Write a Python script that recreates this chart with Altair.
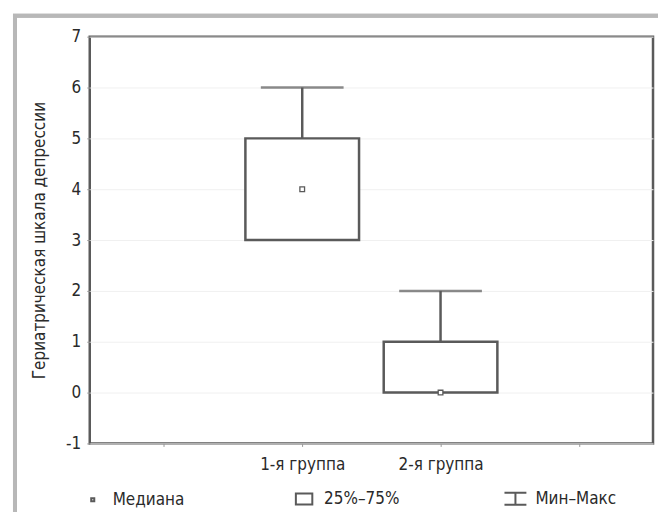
import altair as alt
import pandas as pd

groups = ["1-я группа", "2-я группа"]
positions = [1, 2]
mins = [3, 0]
q1s = [3, 0]
medians = [4, 0]
q3s = [5, 1]
maxs = [6, 2]

legend_items = ["Медиана", "25%–75%", "Мин–Макс"]
legend_shapes = [
    "M-0.14,-0.14H0.14V0.14H-0.14Z",
    "M-0.75,-0.5H0.75V0.5H-0.75Z",
    "M-1,-0.55H1M0,-0.55V0.55M-1,0.55H1",
]

FONT = "DejaVu Sans Condensed, Liberation Sans Narrow, Liberation Sans, sans-serif"
GRAY = "#5a5a5a"
TXT = "#2a2a2a"

df = pd.DataFrame({
    "group": groups, "pos": positions, "min": mins, "q1": q1s,
    "median": medians, "q3": q3s, "max": maxs,
})
leg = pd.DataFrame({"item": legend_items, "pos": [-10] * 3, "v": [0] * 3})

xscale = alt.Scale(domain=[-0.5, 3.5], nice=False, zero=False)
yscale = alt.Scale(domain=[-1, 7], nice=False, zero=False)

label_expr = "datum.value == 1 ? '1-я группа' : (datum.value == 2 ? '2-я группа' : '')"

xenc = alt.X("pos:Q", scale=xscale, axis=alt.Axis(
    values=[0, 1, 2, 3], labelExpr=label_expr, title=None, grid=False,
    domain=False, tickSize=3, tickColor="#999", labelFont=FONT, labelFontSize=17,
    labelColor=TXT, labelPadding=10))
yenc_axis = alt.Axis(values=list(range(-1, 8)), title="Гериатрическая шкала депрессии",
                     labelExpr="datum.value < 0 ? '-' + abs(datum.value) : '' + datum.value",
                     domain=False, tickSize=3, tickColor="#999", grid=True,
                     gridColor="#f0f0f0", labelFont=FONT, labelFontSize=17,
                     labelColor=TXT, labelPadding=6, titleFont=FONT,
                     titleFontSize=17, titleFontWeight="normal", titleColor=TXT,
                     titlePadding=17)

base = alt.Chart(df)

whisker = base.mark_rule(color=GRAY, strokeWidth=2.5).encode(
    x=xenc, y=alt.Y("q3:Q", scale=yscale, axis=yenc_axis), y2="max:Q")

box = base.mark_bar(size=114, fill="white", stroke=GRAY, strokeWidth=2.5).encode(
    x="pos:Q", y="q1:Q", y2="q3:Q")

cap = base.mark_tick(orient="horizontal", size=83, thickness=2.5, color=GRAY).encode(
    x="pos:Q", y="max:Q")

med = base.mark_point(shape="square", size=22, filled=True, fill="white",
                      stroke=GRAY, strokeWidth=1.3, opacity=1).encode(
    x="pos:Q", y="median:Q")

legend_layer = alt.Chart(leg).mark_point(clip=True, filled=False, opacity=1).encode(
    x="pos:Q", y="v:Q",
    shape=alt.Shape("item:N", sort=legend_items,
                    scale=alt.Scale(domain=legend_items, range=legend_shapes),
                    legend=alt.Legend(orient="none", legendX=-9, legendY=451,
                                      direction="horizontal", columns=3,
                                      title=None, symbolSize=484,
                                      symbolStrokeColor=GRAY, symbolFillColor="white",
                                      symbolStrokeWidth=2, labelFont=FONT,
                                      labelFontSize=17, labelColor=TXT,
                                      labelOffset=8, columnPadding=96,
                                      gridAlign="all")))

frame = alt.Chart(df).mark_rect(fill=None, stroke="#b8b8b8", strokeWidth=4).encode(
    x=alt.value(-75), x2=alt.value(700), y=alt.value(-21), y2=alt.value(540))

chart = alt.layer(frame, legend_layer, whisker, box, cap, med).properties(
    width=565, height=408,
    padding={"left": 82, "top": 28, "right": 5, "bottom": 68},
    autosize=alt.AutoSizeParams(type="none"),
    background="white",
).configure_view(stroke=GRAY, strokeWidth=2.5)

chart.save("out.html", embed_options={"renderer": "svg", "actions": False})
